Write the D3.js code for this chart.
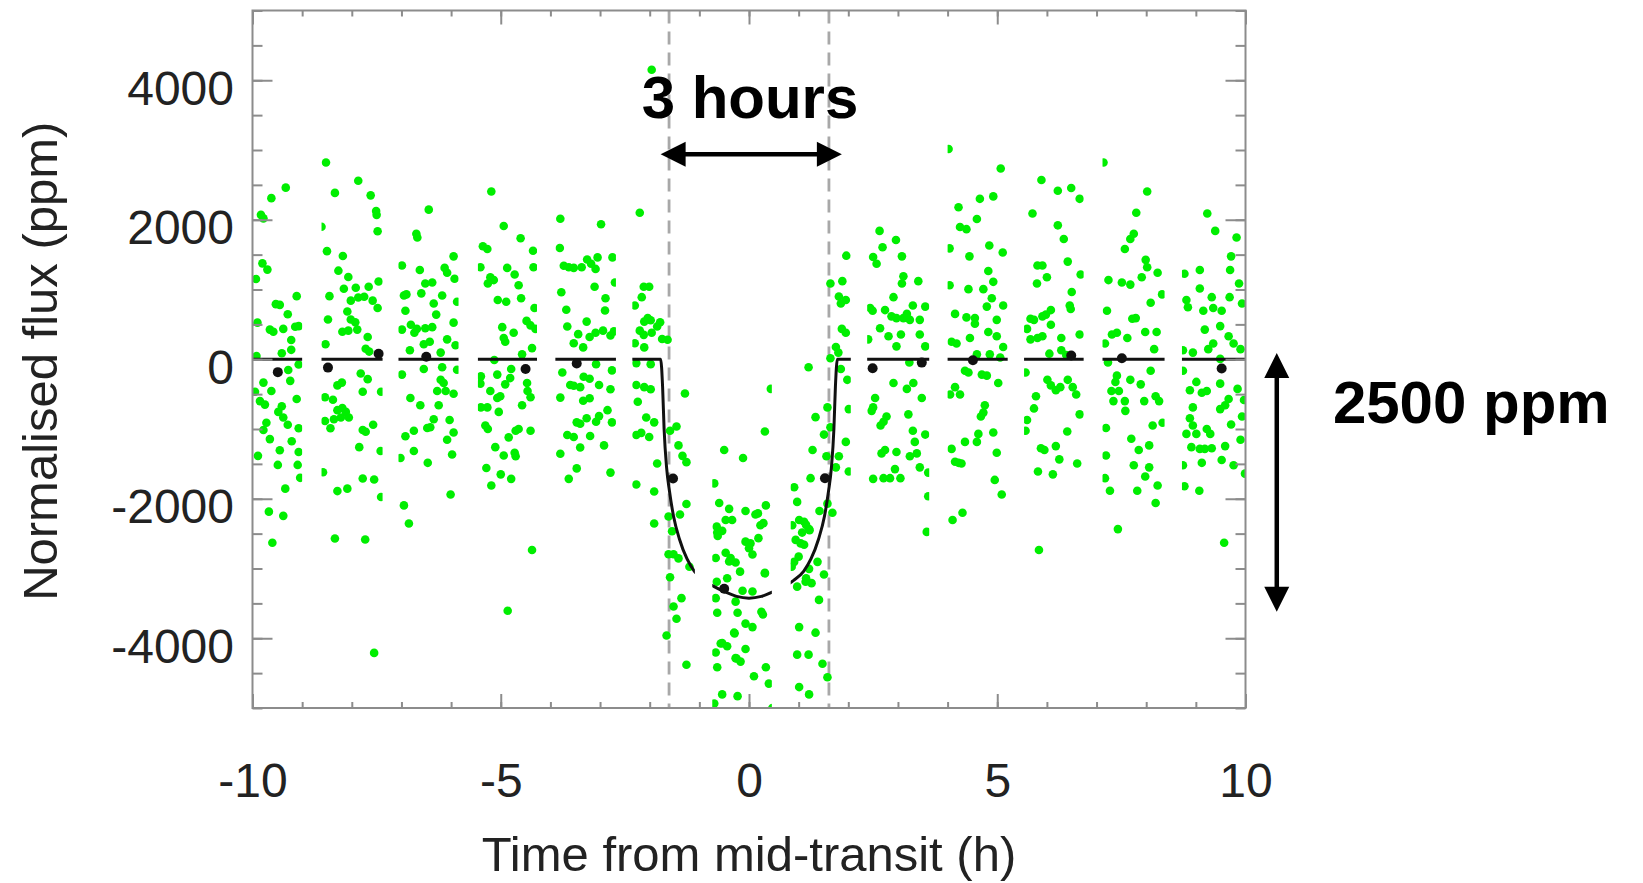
<!DOCTYPE html>
<html>
<head>
<meta charset="utf-8">
<script src="https://cdn.jsdelivr.net/npm/d3@7"></script>
<style>
  html, body { margin: 0; padding: 0; background: #fff; }
  svg { display: block; }
  text { font-family: "Liberation Sans", Arial, Helvetica, sans-serif; }
</style>
</head>
<body>
<svg id="chart" width="1643" height="883"></svg>
<script>
// ---- Observation windows (hours from mid-transit), one per satellite orbit ----
const orbitStart = [-10.0, -8.61, -7.06, -5.46, -3.90, -2.35, -0.74, 0.84, 2.38, 4.00, 5.54, 7.12, 8.72];
const orbitEnd   = [-9.00, -7.38, -5.85, -4.27, -2.68, -1.09, 0.46, 2.05, 3.63, 5.21, 6.74, 8.37, 10.0];

// ---- Unbinned photometry per orbit: [time (h), flux (ppm)] ----
const orbit01 = [[-9.33,2460],[-9.62,2310],[-9.83,2070],[-9.78,2020],[-9.80,1375],[-9.70,1285],[-9.93,1150],[-9.11,905],[-9.53,790],[-9.45,780],[-9.29,645],[-9.90,525],[-9.65,425],[-9.58,395],[-9.38,435],[-9.14,465],[-9.07,475],[-9.22,275],[-9.22,135],[-9.41,85],[-9.92,45],[-9.28,-155],[-9.07,-75],[-9.24,-310],[-9.78,-335],[-9.95,-465],[-9.62,-455],[-9.85,-600],[-9.75,-650],[-9.41,-675],[-9.11,-570],[-9.48,-755],[-9.38,-835],[-9.29,-940],[-9.72,-910],[-9.78,-1015],[-9.07,-990],[-9.65,-1145],[-9.21,-1175],[-9.45,-1305],[-9.07,-1330],[-9.89,-1385],[-9.49,-1515],[-9.09,-1515],[-9.04,-1700],[-9.34,-1855],[-9.67,-2185],[-9.38,-2245],[-9.60,-2630]];
const orbit02 = [[-8.52,2820],[-7.87,2560],[-8.34,2385],[-7.62,2350],[-7.51,2125],[-7.50,2070],[-7.48,1835],[-8.61,1900],[-8.50,1550],[-8.18,1480],[-8.27,1270],[-8.07,1180],[-7.46,1115],[-8.16,1010],[-7.92,1025],[-7.66,1040],[-8.45,905],[-8.02,840],[-7.87,885],[-7.75,895],[-7.58,840],[-7.48,735],[-8.09,685],[-8.48,570],[-8.02,570],[-7.93,530],[-8.19,395],[-8.07,410],[-7.89,425],[-7.68,320],[-8.53,215],[-7.72,150],[-7.65,110],[-7.82,-205],[-7.68,-285],[-7.41,-465],[-8.29,-375],[-8.20,-335],[-7.78,-465],[-8.38,-580],[-8.54,-545],[-8.29,-730],[-8.19,-700],[-8.12,-755],[-8.22,-835],[-8.36,-860],[-8.06,-835],[-8.54,-885],[-8.43,-990],[-7.78,-1015],[-7.72,-1040],[-7.57,-940],[-7.85,-1260],[-7.42,-1315],[-8.58,-1620],[-7.78,-1710],[-7.55,-1725],[-8.29,-1890],[-8.09,-1855],[-7.41,-1975],[-8.34,-2570],[-7.73,-2585],[-7.55,-4210]];
const orbit03 = [[-6.45,2145],[-6.70,1800],[-6.68,1745],[-6.99,1345],[-5.95,1475],[-6.63,1280],[-6.13,1310],[-6.08,1240],[-5.93,1155],[-6.52,1085],[-6.38,1100],[-6.95,915],[-6.90,930],[-6.60,945],[-6.18,915],[-6.35,800],[-6.92,695],[-6.30,640],[-5.88,825],[-6.99,425],[-6.81,495],[-6.74,380],[-6.69,435],[-6.52,445],[-6.38,460],[-5.95,525],[-6.55,215],[-6.43,250],[-6.83,130],[-6.08,285],[-6.21,95],[-5.91,200],[-6.99,-220],[-6.55,-140],[-6.18,-115],[-5.88,-150],[-6.21,-295],[-6.15,-340],[-6.28,-455],[-6.11,-455],[-5.95,-495],[-6.82,-555],[-6.62,-660],[-6.25,-660],[-6.35,-860],[-6.03,-870],[-6.48,-985],[-6.42,-975],[-6.92,-1105],[-6.75,-1025],[-5.95,-1050],[-6.08,-1155],[-6.75,-1315],[-5.98,-1365],[-7.02,-1415],[-6.47,-1485],[-6.01,-1940],[-6.95,-2095],[-6.85,-2355]];
const orbit04 = [[-5.19,2405],[-4.94,1910],[-4.60,1735],[-4.35,1555],[-5.36,1620],[-5.27,1580],[-5.41,1320],[-4.87,1310],[-4.72,1215],[-5.21,1175],[-5.14,1135],[-5.26,1085],[-4.64,1060],[-4.34,1320],[-5.06,850],[-4.89,825],[-4.59,875],[-4.32,735],[-4.97,460],[-4.94,305],[-4.74,380],[-4.48,550],[-4.40,485],[-4.30,435],[-4.91,250],[-4.37,160],[-5.13,-10],[-4.57,70],[-5.40,-245],[-5.41,-350],[-5.07,-220],[-4.79,-140],[-4.81,-270],[-4.91,-360],[-4.47,-340],[-4.46,-455],[-4.40,-545],[-5.21,-455],[-5.07,-555],[-5.01,-530],[-4.57,-660],[-5.40,-690],[-5.27,-690],[-5.04,-755],[-5.31,-950],[-5.26,-1000],[-4.64,-1000],[-4.70,-1025],[-4.40,-1025],[-4.84,-1120],[-5.11,-1260],[-4.94,-1380],[-4.72,-1340],[-4.70,-1390],[-5.29,-1560],[-5.00,-1650],[-4.79,-1715],[-5.19,-1810],[-4.37,-2735],[-4.86,-3605]];
const orbit05 = [[-3.80,2015],[-2.98,1935],[-3.81,1595],[-3.73,1340],[-3.63,1320],[-3.53,1310],[-3.37,1320],[-3.26,1430],[-3.18,1370],[-3.05,1460],[-3.09,1295],[-2.75,1460],[-3.78,960],[-3.11,1040],[-2.70,1100],[-3.68,710],[-2.89,875],[-3.66,470],[-3.27,540],[-2.90,700],[-3.44,360],[-3.21,320],[-3.09,380],[-2.94,410],[-2.79,340],[-2.72,400],[-3.53,230],[-3.34,170],[-3.08,-70],[-3.76,-190],[-3.33,-250],[-3.21,-280],[-2.76,-160],[-3.60,-370],[-3.53,-380],[-3.40,-400],[-3.02,-370],[-2.79,-430],[-3.80,-550],[-3.34,-595],[-3.21,-560],[-2.85,-730],[-3.47,-905],[-3.40,-925],[-3.27,-845],[-3.08,-895],[-3.02,-815],[-2.76,-905],[-3.66,-1085],[-3.53,-1115],[-3.40,-1265],[-3.20,-1100],[-2.92,-1235],[-3.80,-1355],[-3.47,-1565],[-3.63,-1715],[-2.79,-1625]];
const orbit06 = [[-1.96,4150],[-2.20,2100],[-2.12,1040],[-2.01,1040],[-2.16,890],[-2.30,770],[-2.04,590],[-2.11,540],[-1.98,560],[-1.79,530],[-1.85,470],[-2.20,410],[-2.12,350],[-1.96,380],[-1.75,290],[-1.64,280],[-2.30,230],[-2.11,170],[-2.27,-55],[-1.98,-70],[-1.29,-490],[-2.27,-370],[-2.11,-400],[-1.98,-430],[-2.24,-610],[-2.07,-835],[-1.91,-905],[-1.46,-965],[-1.59,-1025],[-2.27,-1085],[-2.17,-1055],[-2.01,-1115],[-1.42,-1235],[-1.85,-1495],[-1.34,-1385],[-1.26,-1475],[-2.27,-1795],[-1.91,-1895],[-1.26,-2075],[-1.39,-2225],[-1.62,-2255],[-1.91,-2355],[-1.55,-2465],[-1.62,-2795],[-1.52,-2795],[-1.42,-2855],[-1.20,-2975],[-1.59,-3125],[-1.36,-3425],[-1.52,-3545],[-1.46,-3720],[-1.66,-3960],[-1.26,-4380]];
const orbit07 = [[0.44,-425],[0.32,-1035],[-0.50,-1300],[-0.12,-1415],[-0.70,-1780],[-0.60,-2060],[-0.40,-2145],[-0.47,-2305],[-0.34,-2305],[-0.07,-2175],[0.13,-2225],[0.34,-2095],[-0.64,-2485],[-0.54,-2460],[0.23,-2380],[-0.07,-2615],[0.03,-2640],[0.07,-2800],[-0.47,-2775],[-0.37,-2850],[-0.27,-2915],[-0.67,-2850],[0.32,-3060],[-0.44,-3140],[-0.13,-3320],[0.07,-3330],[-0.67,-3425],[-0.27,-3475],[-0.64,-3635],[-0.23,-3635],[0.28,-3660],[-0.07,-3790],[0.07,-3840],[-0.30,-3920],[-0.57,-4075],[-0.44,-4115],[-0.07,-4155],[-0.67,-4205],[-0.27,-4285],[-0.17,-4335],[-0.64,-4415],[0.34,-4415],[0.10,-4545],[0.40,-4650],[-0.54,-4805],[-0.23,-4830],[-0.70,-4935],[0.47,-5000],[-0.65,-2400],[-0.63,-2535],[0.18,-2210],[0.29,-2350],[0.19,-2565],[0.00,-2710],[-0.40,-2900],[-0.18,-3045],[0.32,-3070],[-0.65,-3190],[0.25,-3620],[-0.29,-3930],[-0.54,-4070],[-0.25,-4290]];
const orbit08 = [[1.96,1485],[1.64,1085],[1.88,1120],[1.81,900],[1.85,800],[1.95,850],[1.87,435],[1.95,380],[1.75,175],[1.80,95],[1.64,15],[1.20,-115],[1.85,-140],[1.98,-295],[2.01,-715],[1.58,-690],[1.34,-830],[1.64,-975],[1.51,-1080],[1.95,-1185],[1.28,-1300],[1.56,-1390],[1.81,-1390],[1.75,-1550],[2.01,-1610],[1.24,-1705],[0.91,-1835],[0.97,-2045],[1.42,-2175],[1.68,-2200],[1.58,-2070],[1.01,-2305],[1.11,-2330],[0.87,-2380],[1.21,-2435],[1.07,-2485],[0.94,-2590],[1.04,-2640],[1.38,-2905],[1.21,-3005],[0.91,-2905],[1.14,-3190],[1.51,-3085],[1.41,-3450],[1.01,-3840],[1.34,-3920],[0.97,-4235],[1.20,-4235],[1.48,-4365],[1.58,-4560],[1.01,-4700],[1.21,-4805],[1.11,-2660],[1.00,-2830],[0.86,-2975],[1.15,-3140],[1.26,-3210],[0.97,-3260],[1.22,-2450],[1.15,-2375]];
const orbit09 = [[2.63,1840],[2.96,1710],[2.69,1605],[2.50,1465],[2.57,1370],[3.08,1475],[3.11,1190],[3.08,1085],[3.41,1120],[2.91,890],[2.44,735],[2.49,695],[2.74,705],[3.30,770],[3.55,755],[2.87,615],[2.97,590],[3.11,590],[3.24,565],[3.44,565],[3.18,650],[2.64,445],[2.81,330],[3.06,355],[3.44,355],[2.97,185],[2.40,285],[3.55,185],[3.23,-45],[2.91,-340],[3.31,-340],[3.18,-425],[3.48,-555],[2.54,-555],[2.50,-690],[2.47,-740],[2.77,-820],[2.71,-895],[2.65,-950],[3.21,-790],[3.30,-1025],[3.34,-1185],[3.55,-1080],[2.74,-1300],[2.67,-1350],[2.97,-1330],[3.24,-1390],[3.38,-1350],[3.44,-1550],[2.50,-1715],[2.71,-1705],[2.84,-1705],[2.94,-1575],[3.05,-1705],[3.61,-1625],[3.58,-2475],[3.61,-1965]];
const orbit10 = [[4.02,3015],[5.07,2735],[4.92,2335],[4.65,2300],[4.22,2180],[4.59,2010],[4.25,1895],[4.38,1865],[4.84,1630],[4.04,1590],[5.11,1530],[4.44,1475],[4.82,1265],[4.92,1110],[4.04,1060],[4.42,1005],[4.72,1005],[4.89,875],[4.15,650],[4.38,600],[4.55,590],[4.55,510],[4.79,755],[5.12,770],[4.99,565],[4.82,390],[4.99,330],[4.08,250],[4.18,225],[4.45,305],[5.12,175],[4.59,70],[4.85,70],[5.06,25],[4.35,-165],[4.42,-190],[4.69,-220],[4.79,-235],[5.02,-340],[4.15,-400],[4.05,-505],[4.25,-505],[4.75,-660],[4.72,-765],[4.67,-820],[4.92,-1050],[4.62,-1070],[4.59,-1185],[4.35,-1185],[4.08,-1285],[4.15,-1470],[4.22,-1485],[4.28,-1495],[4.99,-1340],[4.95,-1730],[5.09,-1940],[4.10,-2305],[4.30,-2200]];
const orbit11 = [[5.89,2570],[6.22,2415],[6.49,2455],[6.66,2300],[5.71,2090],[6.22,1920],[6.34,1725],[5.81,1345],[5.91,1345],[6.00,1175],[5.80,1085],[6.42,1400],[6.68,1215],[6.50,965],[6.46,770],[6.48,720],[6.08,705],[5.67,580],[5.74,565],[5.91,615],[5.98,640],[6.08,495],[5.60,435],[5.67,285],[5.81,305],[5.91,330],[6.29,305],[6.66,355],[6.05,80],[6.29,130],[6.39,60],[5.57,-190],[6.01,-295],[6.08,-375],[6.18,-445],[6.27,-400],[6.42,-295],[6.52,-400],[6.59,-505],[5.78,-530],[5.74,-705],[6.66,-790],[5.60,-870],[5.57,-1025],[6.41,-1035],[5.88,-1275],[5.95,-1300],[6.18,-1245],[6.25,-1435],[6.61,-1495],[5.82,-1610],[6.12,-1650],[5.84,-2735]];
const orbit12 = [[7.14,2820],[8.02,2405],[7.80,2100],[7.75,1800],[7.68,1725],[7.57,1580],[7.99,1425],[8.02,1320],[7.91,1175],[7.51,1100],[7.68,1070],[7.24,1135],[8.23,1240],[8.09,810],[8.32,930],[7.21,695],[7.79,590],[7.72,580],[7.41,380],[7.31,355],[7.62,305],[7.98,390],[8.21,390],[7.17,225],[8.16,145],[7.23,-45],[8.09,-165],[7.41,-235],[7.38,-325],[7.30,-455],[7.45,-455],[7.68,-295],[7.89,-360],[7.96,-600],[7.57,-600],[7.34,-600],[7.58,-740],[8.19,-530],[8.26,-600],[8.13,-950],[8.33,-910],[7.19,-985],[7.70,-1140],[7.85,-1300],[8.06,-1235],[7.19,-1380],[7.75,-1520],[8.06,-1550],[7.98,-1680],[8.23,-1810],[7.27,-1885],[7.82,-1885],[8.19,-2060],[7.43,-2435],[7.17,-1705]];
const orbit13 = [[9.23,2090],[9.39,1840],[9.82,1745],[9.71,1475],[8.77,1225],[9.08,1280],[9.69,1280],[9.08,1015],[9.32,890],[8.81,850],[8.84,745],[9.15,695],[9.35,735],[9.52,695],[9.68,890],[9.87,1085],[9.93,800],[9.18,425],[9.49,475],[9.66,330],[9.35,225],[9.25,145],[8.94,95],[8.74,130],[9.76,225],[9.90,145],[9.49,5],[8.74,-165],[9.01,-325],[8.88,-445],[9.12,-480],[9.22,-455],[9.49,-350],[9.66,-570],[9.84,-425],[9.97,-585],[8.94,-690],[9.49,-715],[9.59,-660],[8.88,-845],[8.94,-950],[8.81,-1070],[9.01,-1070],[9.22,-1000],[9.29,-1070],[9.71,-935],[9.93,-820],[9.90,-1155],[9.32,-1275],[9.18,-1285],[9.08,-1285],[8.91,-1260],[9.59,-1245],[8.74,-1520],[9.12,-1485],[9.52,-1445],[9.76,-1520],[9.99,-1640],[8.77,-1820],[9.07,-1885],[9.57,-2630]];

// ---- One-hour binned flux ----
const binTime = [-9.49, -8.48, -7.46, -6.50, -4.50, -3.47, -1.53, -0.50, 1.53, 2.49, 3.48, 4.51, 6.49, 7.51, 9.52];
const binFlux = [-185, -120, 80, 35, -140, -60, -1710, -3290, -1705, -130, -48, -15, 55, 15, -132];

// ---- Best-fit transit model ----
const modelTime = [-10, -1.78, -1.74, -1.71, -1.66, -1.60, -1.52, -1.40, -1.25, -1.10, -0.90, -0.70, -0.50, -0.25, 0, 0.25, 0.50, 0.70, 0.90, 1.10, 1.25, 1.40, 1.52, 1.60, 1.66, 1.71, 1.74, 1.78, 10];
const modelFlux = [0, 0, -400, -1000, -1550, -1900, -2250, -2580, -2860, -3040, -3170, -3260, -3330, -3400, -3425, -3400, -3330, -3260, -3170, -3040, -2860, -2580, -2250, -1900, -1550, -1000, -400, 0, 0];

// ---- Contact times (dashed markers) ----
const contactTimes = [-1.61, 1.61];

// ---- Axis ticks ----
const xMajorTicks = [-10, -5, 0, 5, 10];
const xMinorTicks = d3.range(-10, 10.01, 1);
const yMajorTicks = [-4000, -2000, 0, 2000, 4000];
const yMinorTicks = d3.range(-5000, 5000.01, 500);

// ---- Annotations ----
const durationLabel = "3 hours";
const depthLabel = "2500 ppm";
const durationArrow = { t0: -1.78, t1: 1.87, flux: 2940 };
const depthArrow = { t: 10.63, top: 90, bottom: -3620 };

// ================= drawing =================
const svg = d3.select("#chart");
const plot = { left: 252.5, right: 1245.5, top: 10.5, bottom: 708 };
const axisColor = "#8c8c8c";
const textColor = "#222";

const x = d3.scaleLinear().domain([-10, 10]).range([plot.left, plot.right]);
const y = d3.scaleLinear().domain([-5000, 5000]).range([plot.bottom, plot.top]);

svg.append("rect").attr("width", 1643).attr("height", 883).attr("fill", "#fff");

// clip to the observing windows
const defs = svg.append("defs");
defs.append("clipPath").attr("id", "orbit-windows")
  .selectAll("rect")
  .data(d3.zip(orbitStart, orbitEnd))
  .join("rect")
  .attr("x", d => x(d[0]))
  .attr("width", d => x(d[1]) - x(d[0]))
  .attr("y", plot.top)
  .attr("height", plot.bottom - plot.top);

// dashed contact lines
svg.append("g").selectAll("line").data(contactTimes).join("line")
  .attr("x1", d => x(d)).attr("x2", d => x(d))
  .attr("y1", plot.top).attr("y2", plot.bottom)
  .attr("stroke", "#a8a8a8").attr("stroke-width", 2.8)
  .attr("stroke-dasharray", "13 8");

// photometry
const orbits = [orbit01, orbit02, orbit03, orbit04, orbit05, orbit06, orbit07, orbit08, orbit09, orbit10, orbit11, orbit12, orbit13];
const inWindows = svg.append("g").attr("clip-path", "url(#orbit-windows)");
inWindows.append("g").selectAll("circle").data(orbits.flat()).join("circle")
  .attr("cx", d => x(d[0]))
  .attr("cy", d => y(d[1]))
  .attr("r", 4.3)
  .attr("fill", "#00ee00");

// transit model
const modelLine = d3.line().x(d => x(d[0])).y(d => y(d[1])).curve(d3.curveMonotoneX);
inWindows.append("path")
  .datum(d3.zip(modelTime, modelFlux))
  .attr("d", modelLine)
  .attr("fill", "none")
  .attr("stroke", "#111")
  .attr("stroke-width", 3);

// binned points
svg.append("g").selectAll("circle").data(d3.zip(binTime, binFlux)).join("circle")
  .attr("cx", d => x(d[0]))
  .attr("cy", d => y(d[1]))
  .attr("r", 5)
  .attr("fill", "#111");

// axes: ticks point inward on all four sides
function styleAxis(g) {
  g.select(".domain").remove();
  g.selectAll(".tick line").attr("stroke", axisColor).attr("stroke-width", 2);
  g.attr("font-family", null).attr("font-size", null);
  g.selectAll(".tick text")
    .attr("fill", textColor)
    .attr("font-size", 48)
    .style("font-family", '"Liberation Sans", Arial, Helvetica, sans-serif');
}
const fmt = d => String(d);

svg.append("g").attr("transform", `translate(0,${plot.bottom})`)
  .call(d3.axisBottom(x).tickValues(xMinorTicks).tickSize(-6).tickSizeOuter(0).tickFormat(""))
  .call(styleAxis);
svg.append("g").attr("transform", `translate(0,${plot.bottom})`)
  .call(d3.axisBottom(x).tickValues(xMajorTicks).tickSize(-14).tickSizeOuter(0).tickPadding(55).tickFormat(fmt))
  .call(styleAxis);
svg.append("g").attr("transform", `translate(0,${plot.top})`)
  .call(d3.axisTop(x).tickValues(xMinorTicks).tickSize(-6).tickSizeOuter(0).tickFormat(""))
  .call(styleAxis);
svg.append("g").attr("transform", `translate(0,${plot.top})`)
  .call(d3.axisTop(x).tickValues(xMajorTicks).tickSize(-14).tickSizeOuter(0).tickFormat(""))
  .call(styleAxis);

svg.append("g").attr("transform", `translate(${plot.left},0)`)
  .call(d3.axisLeft(y).tickValues(yMinorTicks).tickSize(-10).tickSizeOuter(0).tickFormat(""))
  .call(styleAxis);
svg.append("g").attr("transform", `translate(${plot.left},0)`)
  .call(d3.axisLeft(y).tickValues(yMajorTicks).tickSize(-20).tickSizeOuter(0).tickPadding(18.5).tickFormat(fmt))
  .call(styleAxis)
  .call(g => g.selectAll(".tick text").attr("dy", "0.5em"));
svg.append("g").attr("transform", `translate(${plot.right},0)`)
  .call(d3.axisRight(y).tickValues(yMinorTicks).tickSize(-10).tickSizeOuter(0).tickFormat(""))
  .call(styleAxis);
svg.append("g").attr("transform", `translate(${plot.right},0)`)
  .call(d3.axisRight(y).tickValues(yMajorTicks).tickSize(-20).tickSizeOuter(0).tickFormat(""))
  .call(styleAxis);

// frame
svg.append("rect")
  .attr("x", plot.left).attr("y", plot.top)
  .attr("width", plot.right - plot.left).attr("height", plot.bottom - plot.top)
  .attr("fill", "none").attr("stroke", axisColor).attr("stroke-width", 2);

// axis titles
svg.append("text")
  .attr("x", (plot.left + plot.right) / 2).attr("y", 871)
  .attr("text-anchor", "middle").attr("font-size", 49).attr("fill", textColor)
  .text("Time from mid-transit (h)");
svg.append("text")
  .attr("transform", `translate(57,${(plot.top + plot.bottom) / 2 + 2}) rotate(-90)`)
  .attr("text-anchor", "middle").attr("font-size", 49).attr("fill", textColor)
  .text("Normalised flux (ppm)");

// arrows
function arrow(x0, y0, x1, y1) {
  const len = Math.hypot(x1 - x0, y1 - y0), ux = (x1 - x0) / len, uy = (y1 - y0) / len;
  const head = 25, half = 12.5;
  const g = svg.append("g");
  g.append("line")
    .attr("x1", x0 + ux * head * 0.8).attr("y1", y0 + uy * head * 0.8)
    .attr("x2", x1 - ux * head * 0.8).attr("y2", y1 - uy * head * 0.8)
    .attr("stroke", "#000").attr("stroke-width", 4.5);
  const tri = (tx, ty, dx, dy) => {
    const bx = tx - dx * head, by = ty - dy * head;
    return `M${tx},${ty}L${bx - dy * half},${by + dx * half}L${bx + dy * half},${by - dx * half}Z`;
  };
  g.append("path").attr("d", tri(x1, y1, ux, uy)).attr("fill", "#000");
  g.append("path").attr("d", tri(x0, y0, -ux, -uy)).attr("fill", "#000");
}
arrow(x(durationArrow.t0), y(durationArrow.flux), x(durationArrow.t1), y(durationArrow.flux));
arrow(x(depthArrow.t), y(depthArrow.top), x(depthArrow.t), y(depthArrow.bottom));

// annotation labels
svg.append("text")
  .attr("x", x(0.02)).attr("y", y(3460))
  .attr("text-anchor", "middle").attr("font-size", 60).attr("font-weight", "bold").attr("fill", "#000")
  .text(durationLabel);
svg.append("text")
  .attr("x", x(11.76)).attr("y", y(-913))
  .attr("text-anchor", "start").attr("font-size", 60).attr("font-weight", "bold").attr("fill", "#000")
  .text(depthLabel);
</script>
</body>
</html>
